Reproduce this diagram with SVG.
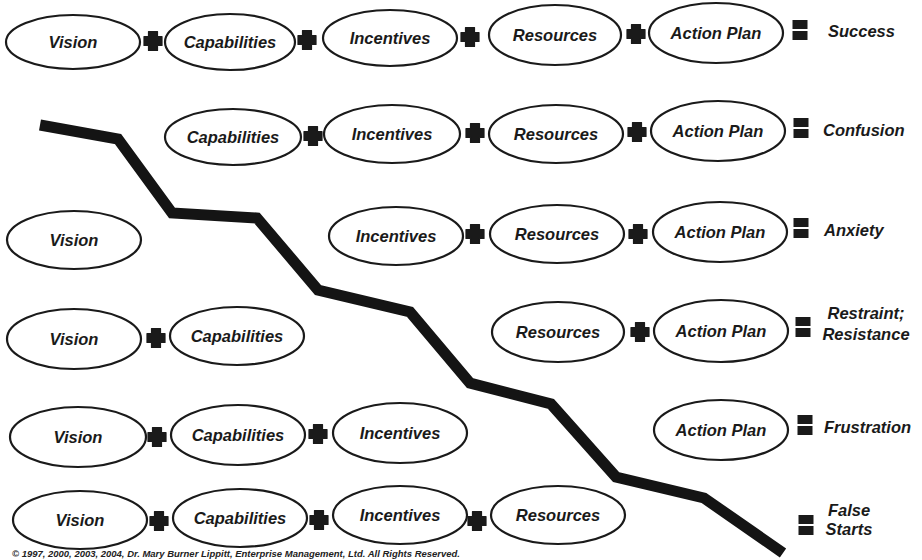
<svg xmlns="http://www.w3.org/2000/svg" width="922" height="560" viewBox="0 0 922 560">
<style>
  .node ellipse { fill: #ffffff; stroke: #1a1a1a; stroke-width: 2.2; }
  .node text, .result { font-family: "Liberation Sans", Arial, sans-serif; font-weight: bold; font-style: italic; font-size: 16.5px; fill: #1a1a1a; text-anchor: middle; }
  .result { text-anchor: start; }
  .result.mid { text-anchor: middle; }
  .op { fill: #1a1a1a; }
  .copy { font-family: "Liberation Sans", Arial, sans-serif; font-style: italic; font-weight: bold; font-size: 8.5px; fill: #222; }
</style>
<defs>
  <path id="plus" d="M-4.5,-9.5 H4.5 V-4.5 H9 V4.5 H4.5 V9.5 H-4.5 V4.5 H-9 V-4.5 H-4.5 Z" stroke="#1a1a1a" stroke-width="1.2" stroke-linejoin="round"/>
  <g id="equals"><rect x="-7.5" y="-10" width="15" height="9"/><rect x="-7.5" y="1" width="15" height="9"/></g>
</defs>
<rect width="922" height="560" fill="#ffffff"/>

<g id="divider">
  <polyline points="40,125 118,139 172,213 257,218 318,290 410,312 470,383 551,404 616,477 704,498 783,553" fill="none" stroke="#141414" stroke-width="11" stroke-linejoin="miter"/>
</g>

<!-- Row 1: Success -->
<g id="r1-vision" class="node"><ellipse cx="73" cy="42" rx="67" ry="27"/><text x="73" y="48">Vision</text></g>
<g id="r1-capabilities" class="node"><ellipse cx="230" cy="42" rx="65" ry="28"/><text x="230" y="48">Capabilities</text></g>
<g id="r1-incentives" class="node"><ellipse cx="390" cy="38" rx="67" ry="28"/><text x="390" y="44">Incentives</text></g>
<g id="r1-resources" class="node"><ellipse cx="555" cy="35" rx="66" ry="30"/><text x="555" y="41">Resources</text></g>
<g id="r1-actionplan" class="node"><ellipse cx="716" cy="33" rx="67" ry="30"/><text x="716" y="39">Action Plan</text></g>

<!-- Row 2: Confusion -->
<g id="r2-capabilities" class="node"><ellipse cx="233" cy="137" rx="68" ry="28"/><text x="233" y="143">Capabilities</text></g>
<g id="r2-incentives" class="node"><ellipse cx="392" cy="134" rx="68" ry="29"/><text x="392" y="140">Incentives</text></g>
<g id="r2-resources" class="node"><ellipse cx="556" cy="134" rx="67" ry="29"/><text x="556" y="140">Resources</text></g>
<g id="r2-actionplan" class="node"><ellipse cx="718" cy="131" rx="67" ry="30"/><text x="718" y="137">Action Plan</text></g>

<!-- Row 3: Anxiety -->
<g id="r3-vision" class="node"><ellipse cx="74" cy="240" rx="67" ry="29"/><text x="74" y="246">Vision</text></g>
<g id="r3-incentives" class="node"><ellipse cx="396" cy="236" rx="67" ry="29"/><text x="396" y="242">Incentives</text></g>
<g id="r3-resources" class="node"><ellipse cx="557" cy="234" rx="67" ry="29"/><text x="557" y="240">Resources</text></g>
<g id="r3-actionplan" class="node"><ellipse cx="720" cy="232" rx="67" ry="30"/><text x="720" y="238">Action Plan</text></g>

<!-- Row 4: Restraint; Resistance -->
<g id="r4-vision" class="node"><ellipse cx="74" cy="339" rx="67" ry="30"/><text x="74" y="345">Vision</text></g>
<g id="r4-capabilities" class="node"><ellipse cx="237" cy="336" rx="67" ry="29"/><text x="237" y="342">Capabilities</text></g>
<g id="r4-resources" class="node"><ellipse cx="558" cy="332" rx="66" ry="30"/><text x="558" y="338">Resources</text></g>
<g id="r4-actionplan" class="node"><ellipse cx="721" cy="331" rx="67" ry="31"/><text x="721" y="337">Action Plan</text></g>

<!-- Row 5: Frustration -->
<g id="r5-vision" class="node"><ellipse cx="78" cy="437" rx="68" ry="30"/><text x="78" y="443">Vision</text></g>
<g id="r5-capabilities" class="node"><ellipse cx="238" cy="435" rx="67" ry="30"/><text x="238" y="441">Capabilities</text></g>
<g id="r5-incentives" class="node"><ellipse cx="400" cy="433" rx="67" ry="30"/><text x="400" y="439">Incentives</text></g>
<g id="r5-actionplan" class="node"><ellipse cx="721" cy="430" rx="67" ry="30"/><text x="721" y="436">Action Plan</text></g>

<!-- Row 6: False Starts -->
<g id="r6-vision" class="node"><ellipse cx="80" cy="520" rx="67" ry="29"/><text x="80" y="526">Vision</text></g>
<g id="r6-capabilities" class="node"><ellipse cx="240" cy="518" rx="67" ry="29"/><text x="240" y="524">Capabilities</text></g>
<g id="r6-incentives" class="node"><ellipse cx="400" cy="515" rx="67" ry="29"/><text x="400" y="521">Incentives</text></g>
<g id="r6-resources" class="node"><ellipse cx="558" cy="515" rx="67" ry="29"/><text x="558" y="521">Resources</text></g>

<g id="connectors" class="op">
  <!-- row 1 -->
  <use href="#plus" x="153" y="41"/>
  <use href="#plus" x="307" y="40"/>
  <use href="#plus" x="470" y="37"/>
  <use href="#plus" x="636" y="34"/>
  <use href="#equals" x="800" y="30"/>
  <!-- row 2 -->
  <use href="#plus" x="313" y="136"/>
  <use href="#plus" x="475" y="133"/>
  <use href="#plus" x="637" y="132"/>
  <use href="#equals" x="801" y="128"/>
  <!-- row 3 -->
  <use href="#plus" x="475" y="234"/>
  <use href="#plus" x="638" y="234"/>
  <use href="#equals" x="801" y="228"/>
  <!-- row 4 -->
  <use href="#plus" x="156" y="338"/>
  <use href="#plus" x="640" y="332"/>
  <use href="#equals" x="803" y="327"/>
  <!-- row 5 -->
  <use href="#plus" x="157" y="437"/>
  <use href="#plus" x="318" y="434"/>
  <use href="#equals" x="805" y="425"/>
  <!-- row 6 -->
  <use href="#plus" x="159" y="521"/>
  <use href="#plus" x="319" y="520"/>
  <use href="#plus" x="477" y="521"/>
  <use href="#equals" x="806" y="525"/>
</g>

<g id="results">
  <text class="result" x="828" y="37">Success</text>
  <text class="result" x="823" y="136">Confusion</text>
  <text class="result" x="824" y="236">Anxiety</text>
  <text class="result mid" x="866" y="319">Restraint;</text>
  <text class="result mid" x="866" y="340">Resistance</text>
  <text class="result" x="824" y="433">Frustration</text>
  <text class="result mid" x="849" y="516">False</text>
  <text class="result mid" x="849" y="535">Starts</text>
</g>

<text class="copy" x="12" y="557" textLength="448" lengthAdjust="spacingAndGlyphs">© 1997, 2000, 2003, 2004, Dr. Mary Burner Lippitt, Enterprise Management, Ltd.  All Rights Reserved.</text>
</svg>
